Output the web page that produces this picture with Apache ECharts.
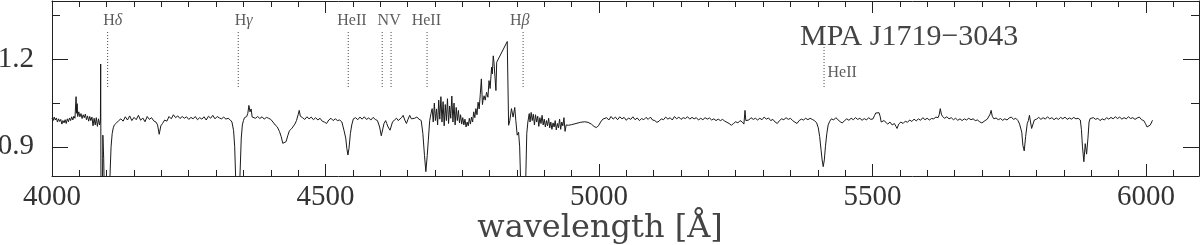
<!DOCTYPE html>
<html><head><meta charset="utf-8">
<script src="https://cdn.jsdelivr.net/npm/echarts@6/dist/echarts.min.js"></script>
<style>html,body{margin:0;padding:0;background:#fff}#c{width:1200px;height:245px}</style>
</head><body><div id="c"></div>
<script>
// ---------------- DATA ----------------
const titleText = 'MPA J1719\u22123043';
const xName = 'wavelength [\u00C5]';
const xMajorTicks = [4000, 4500, 5000, 5500, 6000];
const yMajorTicks = [0.9, 1.2];
const yMinorTicks = [1.05, 1.35];

// identified lines (wavelength of dotted marker)
const lineWaves = [4101.7, 4340.5, 4541.6, 4603.7, 4619.9, 4685.7, 4861.3, 5411.5];
const labelTexts = ['H\u03B4', 'H\u03B3', 'HeII', 'NV', 'HeII', 'H\u03B2'];
const labelWaves = [4101.7, 4340.5, 4541.6, 4611.8, 4685.7, 4861.3];
const sideLabelText = 'HeII';
const sideLabelWave = 5411.5;

// spectrum [wavelength, normalised flux]
const specA = [[4000,0.998],[4002,0.990],[4004,1.002],[4006,0.992],[4008,0.999],[4010,0.985],[4012,0.996],[4014,0.987],[4016,0.994],[4018,0.978],[4020,0.990],[4022,0.982],[4024,0.993],[4026,0.980],[4028,0.996],[4030,0.986],[4032,0.999],[4034,0.990],[4036,1.003],[4038,0.992],[4040,1.005],[4042,0.998],[4044,1.072],[4045,1.015],[4046,1.048],[4047,1.004],[4049,1.020],[4051,1.003],[4053,1.014],[4055,0.997],[4057,1.010],[4059,1.000],[4061,1.012],[4063,0.993],[4065,1.006],[4067,0.988],[4069,1.004],[4071,0.990],[4073,1.002],[4075,0.972],[4077,0.998],[4079,0.975],[4081,1.000],[4083,0.970],[4085,0.996],[4087,0.975],[4088.5,0.992],[4089,1.184],[4089.6,0.70],[4092,0.72],[4093,0.94],[4094.5,0.86],[4096,0.72],[4100,0.70],[4104,0.70],[4106,0.80],[4108,0.90],[4110,0.945],[4112,0.965],[4114,0.975],[4116,0.972],[4118,0.982],[4120,0.978],[4122,0.990],[4124,0.985]];

const specB = [[4126,0.996],[4130,0.988],[4134,1.003],[4138,0.992],[4142,1.006],[4146,0.990],[4150,1.001],[4154,0.993],[4158,1.008],[4162,0.991],[4166,0.999],[4170,0.986],[4174,1.004],[4178,0.994],[4182,1.000],[4186,0.989],[4190,0.985],[4193,0.975],[4196,0.943],[4199,0.972],[4202,0.980],[4206,0.992],[4210,0.988],[4214,1.004],[4218,0.996],[4222,1.010],[4226,1.000],[4230,1.006],[4234,0.997],[4238,1.004],[4242,0.998],[4246,1.003],[4250,0.994],[4254,1.001],[4258,0.996],[4262,1.004],[4266,0.993],[4270,1.000],[4274,0.995],[4278,1.003],[4282,0.992],[4286,1.005],[4290,0.998],[4294,1.008],[4298,0.996],[4302,1.004],[4306,0.999],[4310,0.996],[4314,1.002],[4318,0.995],[4322,0.998],[4326,0.992],[4329,0.985],[4332,0.955],[4334,0.90],[4336,0.78],[4338,0.70],[4342,0.72],[4344,0.82],[4346,0.93],[4348,0.975],[4350,0.99],[4352,1.000],[4354,0.996],[4356,1.004],[4358,1.015],[4360,1.042],[4362,1.020],[4364,1.030],[4366,1.002],[4368,1.006],[4372,0.998],[4376,1.004],[4380,0.997],[4384,1.003],[4388,0.995],[4392,1.001],[4396,0.998],[4400,0.994],[4404,0.985],[4408,0.975],[4412,0.968],[4416,0.952],[4419,0.935],[4422,0.912],[4425,0.906],[4428,0.918],[4431,0.938],[4434,0.955],[4436,0.950],[4438,0.962],[4441,0.968],[4444,0.978],[4447,0.990],[4450,1.010],[4452,1.025],[4454,1.005],[4458,1.000],[4462,0.994],[4466,1.003],[4470,0.996],[4474,1.002],[4478,0.993],[4482,1.000],[4486,0.992],[4490,0.998],[4494,0.988],[4498,0.985],[4502,0.980],[4506,0.992],[4510,0.998],[4514,0.990],[4518,0.996],[4522,0.990],[4526,0.992],[4530,0.985],[4534,0.955],[4537,0.930],[4539,0.895],[4541,0.872],[4543,0.895],[4545.5,0.945],[4548,0.975],[4551,0.996],[4555,1.000],[4559,0.993],[4563,1.002],[4567,0.995],[4571,1.003],[4575,0.994],[4579,0.999],[4583,0.992],[4587,1.001],[4591,0.994],[4595,0.990],[4599,0.968],[4602,0.938],[4604,0.934],[4607,0.980],[4610,0.990],[4612,0.980],[4614.5,0.968],[4618,0.957],[4620,0.962],[4622.5,0.985],[4626,0.992],[4630,0.998],[4633,0.990],[4636,0.990],[4639,1.000],[4642,1.008],[4645,0.992],[4648,0.980],[4651,0.995],[4654,1.008],[4657,0.996],[4660,0.990],[4663,0.998],[4667,1.002],[4671,0.995],[4675,0.990],[4678,0.946],[4681,0.870],[4683.5,0.815],[4686,0.870],[4688,0.923],[4690.5,0.990],[4693,1.015]];

const specC = [[4695,1.031],[4697,0.985],[4699,1.050],[4701,0.990],[4703,1.030],[4705,0.975],[4707,1.060],[4709,0.995],[4711,1.072],[4713,0.985],[4715,1.055],[4717,0.972],[4719,1.045],[4721,0.990],[4723,1.065],[4725,0.980],[4727,1.040],[4729,0.998],[4731,1.074],[4733,0.985],[4735,1.050],[4737,0.975],[4739,1.035],[4741,0.990],[4743,1.025],[4745,0.982],[4747,1.010],[4749,0.978],[4751,1.000],[4753,0.975],[4755,0.995],[4757,0.968],[4759,0.985],[4761,0.972],[4763,0.998],[4765,0.978],[4767,1.002],[4769,0.985],[4771,1.020],[4773,1.000],[4775,1.031],[4777,1.010],[4779,1.053],[4781,1.030],[4783,1.080],[4785,1.133],[4787,1.045],[4788,1.059],[4790,1.075],[4792,1.060],[4794.5,1.087],[4797,1.070],[4799,1.127],[4801,1.100],[4803.7,1.173],[4805,1.150],[4806.7,1.212],[4808,1.190],[4810,1.184],[4811.6,1.093],[4813,1.190],[4832.3,1.261],[4834.8,0.974],[4837,0.990],[4840,1.031],[4843,1.002],[4846,1.035],[4848,0.990],[4850.5,0.940],[4853,0.950],[4855,0.900],[4856.8,0.78],[4858,0.70],[4865,0.70],[4866.5,0.82],[4868,0.946],[4870,0.985],[4872.5,1.014]];

const specD = [[4874,0.985],[4876,1.018],[4878,0.990],[4880,1.012],[4882,0.975],[4884,1.010],[4886,0.985],[4888,1.005],[4890,0.970],[4892,1.000],[4894,0.980],[4896,1.008],[4898,0.975],[4900,0.995],[4902,0.968],[4904,0.990],[4906,0.972],[4908,0.998],[4910,0.965],[4912,0.985],[4914,0.960],[4916,0.982],[4918,0.968],[4920,0.990],[4922,0.958],[4924,0.980],[4926,0.965],[4928,0.995],[4930,0.960],[4932,0.985],[4934,0.972],[4936,1.000],[4938,0.953],[4940,0.975],[4944,0.974],[4950,0.976],[4958,0.980],[4966,0.984],[4974,0.986],[4980,0.984],[4986,0.978],[4991,0.970],[4995,0.966],[4999,0.972],[5003,0.985],[5007,0.995]];

const specE = [[5010,0.990],[5014,1.000],[5018,0.992],[5022,1.004],[5026,0.995],[5030,1.002],[5034,0.993],[5038,1.003],[5042,0.996],[5046,1.001],[5050,0.991],[5054,0.999],[5058,0.994],[5062,1.003],[5066,0.993],[5070,0.999],[5074,0.990],[5078,0.997],[5082,0.993],[5086,1.001],[5090,0.994],[5094,1.002],[5098,0.992],[5102,0.990],[5106,0.984],[5110,0.988],[5114,0.996],[5118,0.993],[5122,1.002],[5126,0.995],[5130,1.000],[5134,0.992],[5138,1.004],[5142,0.996],[5146,1.002],[5150,0.994],[5154,1.000],[5158,0.997],[5162,1.003],[5166,0.995],[5170,1.001],[5174,0.996],[5178,1.000],[5182,0.992],[5186,0.998],[5190,0.993],[5194,1.000],[5198,0.995],[5202,0.999],[5206,0.992],[5210,0.996],[5214,0.990],[5218,0.995],[5222,0.990],[5226,0.994],[5230,0.988],[5234,0.984],[5238,0.980],[5242,0.974],[5246,0.980],[5250,0.986],[5254,0.982],[5258,0.990],[5262,0.985],[5265,0.978],[5267,1.025],[5268.5,0.990],[5271,0.996],[5274,0.992],[5278,1.000],[5282,0.994],[5286,0.998],[5290,0.992],[5294,0.998],[5298,0.993],[5302,1.002],[5306,0.995],[5310,0.999],[5314,0.990],[5318,0.994],[5322,0.985],[5326,0.980],[5330,0.990],[5334,0.996],[5338,0.993],[5342,1.000],[5346,0.994],[5350,0.998],[5354,0.990],[5358,0.985],[5362,0.980],[5366,0.990],[5370,0.995],[5374,0.992],[5378,0.998],[5382,0.993],[5386,0.998],[5390,0.994],[5394,0.990],[5398,0.982],[5401,0.965],[5403.5,0.935],[5406,0.89],[5408,0.855],[5410,0.832],[5412,0.855],[5414,0.90],[5416.5,0.945],[5419,0.975],[5422,0.988],[5425,0.996],[5429,0.992],[5433,1.000],[5437,0.993],[5441,0.986],[5445,0.982],[5449,0.990],[5453,0.996],[5457,0.991],[5461,0.998],[5465,0.993],[5469,1.000],[5473,0.994],[5477,0.998],[5481,0.991],[5485,0.997],[5489,0.992],[5493,1.000],[5497,0.994]];

const specF = [[5501,0.996],[5504,1.008],[5506,1.016],[5509,1.015],[5512,1.017],[5514,1.005],[5516,0.985],[5518,0.980],[5521,0.990],[5524,0.985],[5528,0.978],[5532,0.985],[5536,0.975],[5540,0.980],[5543,0.970],[5545,0.963],[5548,0.978],[5552,0.985],[5556,0.980],[5560,0.988],[5564,0.984],[5568,0.992],[5572,0.987],[5576,0.995],[5580,0.989],[5584,0.996],[5588,0.991],[5592,1.000],[5596,0.993],[5600,0.998],[5604,0.992],[5608,0.997],[5612,0.996],[5616,1.002],[5620,1.000],[5622,1.010],[5624,1.031],[5626,1.012],[5628,1.004],[5632,0.998],[5636,1.003],[5640,0.996],[5644,1.000],[5648,0.993],[5652,0.998],[5656,0.991],[5660,0.996],[5664,0.990],[5668,0.996],[5672,0.992],[5676,0.998],[5680,0.993],[5684,0.996],[5688,0.990],[5692,0.992],[5696,0.986],[5700,0.982],[5703,0.978],[5706,0.990],[5710,0.995],[5713,1.000],[5715,1.012],[5717,1.025],[5719,1.005],[5722,0.996],[5726,0.999],[5730,0.993],[5734,0.997],[5738,0.991],[5742,0.996],[5746,0.992],[5750,0.999],[5754,1.002],[5758,0.994],[5762,0.998],[5766,0.990],[5769,0.978],[5771,0.976],[5773,0.950],[5775,0.905],[5777.5,0.886],[5780,0.935],[5783,0.980],[5785,0.990],[5787,1.008],[5789,0.985],[5791,0.963],[5793,0.975],[5796,0.992],[5800,0.995],[5804,1.001],[5808,0.994],[5812,1.000],[5816,0.995],[5820,1.003],[5824,0.996],[5828,1.000],[5832,0.993],[5836,0.999],[5840,0.994],[5844,1.001],[5848,0.996],[5852,1.002],[5856,0.994],[5860,0.999],[5864,0.995],[5868,1.001],[5872,0.996],[5876,0.998],[5880,0.992],[5882,0.960],[5884,0.900],[5886.5,0.849],[5889,0.911],[5891.5,0.875],[5894,0.930],[5896,0.985],[5898,0.997],[5901,0.993],[5904,1.000],[5908,0.994],[5912,0.998],[5916,0.990],[5920,0.996],[5924,0.992],[5928,1.000],[5932,0.995],[5936,1.001],[5940,0.996],[5944,1.003],[5948,0.997],[5952,1.002],[5956,0.995],[5960,1.000],[5964,0.996],[5968,1.003],[5972,0.997],[5976,1.000],[5980,0.994],[5984,0.999],[5988,1.002],[5992,0.993],[5996,0.990],[5999,0.980],[6002,0.968],[6005,0.963],[6008,0.975],[6012,0.991]];

// ---------------- CHART ----------------
const spectrum = [].concat(specA, specB, specC, specD, specE, specF);
const X_MIN = 4000, X_MAX = 6097, Y_MIN = 0.8, Y_MAX = 1.4;
const MARK_BOT = 1.105, MARK_TOP = 1.297, MARK_TOP_SIDE = 1.246, LABEL_Y = 1.331, SIDE_LABEL_Y = 1.155;
const labelDx = [5, 5.5, 3.7, 2.5, -0.7, -3.4];
const ink = '#222', txt = '#333';
const serif = 'Liberation Serif';

const minorX = [];
for (let v = X_MIN; v <= 6050; v += 50) minorX.push(v);

const axisLineStyle = {color: ink, width: 1};
function xAx(pos, major, showLine) {
  return {
    type: 'value', min: X_MIN, max: X_MAX, position: pos, gridIndex: 0,
    axisLine: {show: showLine, lineStyle: axisLineStyle},
    axisTick: {show: true, inside: true, length: major ? 12 : 6, customValues: major ? xMajorTicks : minorX, lineStyle: axisLineStyle},
    axisLabel: (major && pos === 'bottom') ? {show: true, customValues: xMajorTicks, margin: 7, color: txt, fontFamily: serif, fontSize: 29, formatter: v => String(v)} : {show: false},
    splitLine: {show: false}, minorTick: {show: false}
  };
}
function yAx(pos, major, showLine) {
  return {
    type: 'value', min: Y_MIN, max: Y_MAX, position: pos, gridIndex: 0,
    axisLine: {show: showLine, lineStyle: axisLineStyle},
    axisTick: {show: true, inside: true, length: major ? 16 : 8, customValues: major ? yMajorTicks : yMinorTicks, lineStyle: axisLineStyle},
    axisLabel: (major && pos === 'left') ? {show: true, customValues: yMajorTicks, margin: 18, color: txt, fontFamily: serif, fontSize: 29, formatter: v => v.toFixed(1)} : {show: false},
    splitLine: {show: false}
  };
}

const series = [{
  type: 'line', data: spectrum, xAxisIndex: 0, yAxisIndex: 0,
  showSymbol: false, symbol: 'none', clip: true,
  lineStyle: {color: '#1a1a1a', width: 1}, z: 3
}];
lineWaves.forEach((w, i) => {
  series.push({
    type: 'line', xAxisIndex: 0, yAxisIndex: 0, symbol: 'none', silent: true,
    data: [[w, MARK_BOT], [w, w === sideLabelWave ? MARK_TOP_SIDE : MARK_TOP]],
    lineStyle: {color: '#444', width: 1, type: [1, 2]}
  });
});
const rich = {
  r: {fontFamily: serif, fontSize: 16, color: txt},
  i: {fontFamily: serif, fontSize: 16, color: txt, fontStyle: 'italic'}
};
series.push({
  type: 'scatter', xAxisIndex: 0, yAxisIndex: 0, symbolSize: 1, silent: true,
  itemStyle: {color: 'rgba(0,0,0,0)'},
  data: labelWaves.map((w, i) => ({
    value: [w, LABEL_Y],
    label: {
      show: true, position: 'inside', offset: [labelDx[i], 0], rich: rich,
      formatter: () => labelTexts[i].startsWith('H') && labelTexts[i].length === 2
        ? '{r|H}{i|' + labelTexts[i].slice(1) + '}' : '{r|' + labelTexts[i] + '}'
    }
  })).concat([{
    value: [sideLabelWave, SIDE_LABEL_Y],
    label: {show: true, position: 'right', distance: 3, rich: rich, formatter: '{r|' + sideLabelText + '}'}
  }])
});

const chart = echarts.init(document.getElementById('c'), null, {renderer: 'canvas'});
chart.setOption({
  animation: false,
  backgroundColor: '#fff',
  title: {text: titleText, left: 800, top: 22, padding: 0,
    textStyle: {fontFamily: serif, fontSize: 30, fontWeight: 'normal', color: '#444'}},
  grid: {left: 52, right: 1, top: 1, bottom: 69, containLabel: false, outerBoundsMode: 'none'},
  xAxis: [xAx('bottom', false, true), xAx('bottom', true, false), xAx('top', false, true), xAx('top', true, false)],
  yAxis: [yAx('left', false, true), yAx('left', true, false), yAx('right', false, true), yAx('right', true, false)],
  graphic: [{type: 'text', silent: true,
    style: {text: xName, x: 600, y: 229, textAlign: 'center', textVerticalAlign: 'middle',
      fontFamily: 'DejaVu Serif', fontSize: 32, fill: '#444'}}],
  series: series
});
</script></body></html>
